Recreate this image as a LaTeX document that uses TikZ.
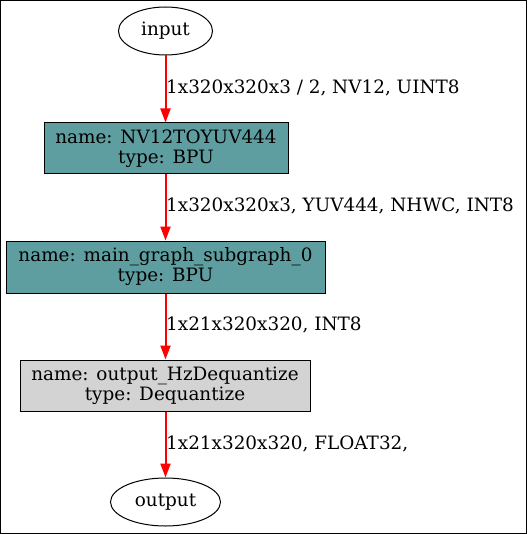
\documentclass[tikz,border=0pt]{standalone}
\usepackage{fontspec}
\setmainfont{DejaVu Serif}
\usetikzlibrary{arrows.meta,shapes.geometric}
\definecolor{cadet}{HTML}{5F9EA0}
\definecolor{lgray}{HTML}{D3D3D3}
\definecolor{edgered}{HTML}{FF0000}
\tikzset{
  x=1pt, y=-1pt,
  every node/.style={font=\fontsize{18.4}{20}\selectfont},
  term/.style={draw, ellipse, inner sep=0pt, line width=1pt},
  opbox/.style={draw, rectangle, inner sep=0pt, align=center, line width=1pt, font=\fontsize{18.4}{20}\selectfont},
  flow/.style={draw=edgered, line width=2pt, -{Triangle[length=14pt,width=10pt,fill=edgered]}},
  elabel/.style={anchor=west, inner sep=0pt, text=black}
}
\begin{document}
\begin{tikzpicture}
\useasboundingbox (0,0) rectangle (527,534);
\draw[line width=1pt] (0.5,0.5) rectangle (526.5,533.5);
\node[term, minimum width=94pt, minimum height=48pt] (in) at (165.5,31) {input};
\node[opbox, fill=cadet, minimum width=244pt, minimum height=51pt] (nv) at (166,148.5) {name: NV12TOYUV444\\type: BPU};
\node[opbox, fill=cadet, minimum width=319pt, minimum height=52pt] (mg) at (165.5,267) {name: main\_graph\_subgraph\_0\\type: BPU};
\node[opbox, fill=lgray, minimum width=290pt, minimum height=51pt] (dq) at (165,385.5) {name: output\_HzDequantize\\type: Dequantize};
\node[term, minimum width=110pt, minimum height=48pt] (out) at (165.5,502) {output};
\coordinate (l1) at (166,88);
\coordinate (l2) at (166,206);
\coordinate (l3) at (166,325);
\coordinate (l4) at (166,444);
\draw[flow] (in.south) -- (in.south |- nv.north);
\draw[flow] (nv.south -| in.south) -- (in.south |- mg.north);
\draw[flow] (mg.south -| in.south) -- (in.south |- dq.north);
\draw[flow] (dq.south -| in.south) -- (out.north);
\node[elabel] (t1) at (l1) {1x320x320x3 / 2, NV12, UINT8};
\node[elabel] (t2) at (l2) {1x320x320x3, YUV444, NHWC, INT8};
\node[elabel] (t3) at (l3) {1x21x320x320, INT8};
\node[elabel] (t4) at (l4) {1x21x320x320, FLOAT32,};
\end{tikzpicture}
\end{document}
